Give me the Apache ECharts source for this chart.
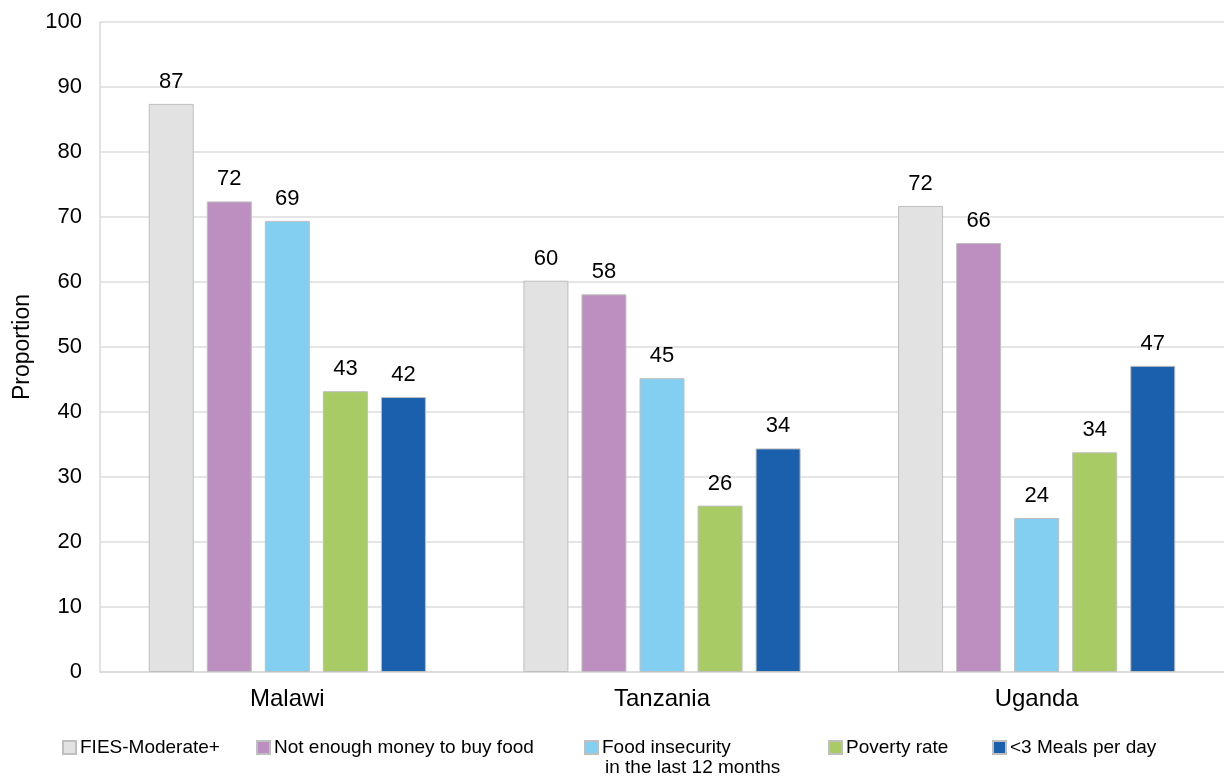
<!DOCTYPE html>
<html>
<head>
<meta charset="utf-8">
<script src="https://cdn.jsdelivr.net/npm/echarts@6/dist/echarts.min.js"></script>
<style>
  html, body { margin: 0; padding: 0; background: #fff; }
  #chart { width: 1224px; height: 776px; }
</style>
</head>
<body>
<div id="chart"></div>
<script>
// 国家
const countries = ['Malawi', 'Tanzania', 'Uganda']
// 系列名称
const seriesNames = [
  'FIES-Moderate+',
  'Not enough money to buy food',
  'Food insecurity',
  'Poverty rate',
  '<3 Meals per day'
]
// 各系列数值（按国家顺序）
const fiesModerate = [87.4, 60.2, 71.7]
const notEnoughMoney = [72.4, 58.1, 66.0]
const foodInsecurity = [69.4, 45.2, 23.7]
const povertyRate = [43.2, 25.6, 33.8]
const mealsPerDay = [42.3, 34.4, 47.1]
const yTicks = [0, 100, 10]

const seriesValues = [fiesModerate, notEnoughMoney, foodInsecurity, povertyRate, mealsPerDay]
const colors = ['#e2e2e2', '#bc8fc0', '#83cff2', '#a9cb65', '#1a60ad']
const legendLeft = [62, 256, 584, 828, 992]

const font = 'Liberation Sans, Arial, sans-serif'

const chart = echarts.init(document.getElementById('chart'))

const option = {
  animation: false,
  grid: { left: 100, right: 0, top: 22, bottom: 104, outerBoundsMode: 'none', containLabel: false },
  legend: seriesNames.map((name, i) => ({
    data: [name],
    left: legendLeft[i],
    top: 738,
    padding: 0,
    icon: 'rect',
    itemWidth: 13,
    itemHeight: 13,
    textStyle: { fontFamily: font, fontSize: 19, color: '#000', padding: [0, 0, 0, -1] }
  })),
  // 第三个图例的第二行文字
  graphic: [{
    type: 'text',
    left: 605,
    top: 758,
    style: { text: 'in the last 12 months', font: '19px Liberation Sans, Arial, sans-serif', fill: '#000' }
  }],
  xAxis: {
    type: 'category',
    data: countries,
    axisLine: { lineStyle: { color: '#d9d9d9', width: 1.5 } },
    axisTick: { show: false },
    axisLabel: { color: '#000', fontFamily: font, fontSize: 24, margin: 15 }
  },
  yAxis: {
    type: 'value',
    min: yTicks[0],
    max: yTicks[1],
    interval: yTicks[2],
    name: 'Proportion',
    nameLocation: 'middle',
    nameGap: 66,
    nameTextStyle: { color: '#000', fontFamily: font, fontSize: 23 },
    axisLine: { show: true, lineStyle: { color: '#d9d9d9', width: 1.5 } },
    axisTick: { show: false },
    splitLine: { lineStyle: { color: '#dcdcdc', width: 1.5 } },
    axisLabel: { color: '#000', fontFamily: font, fontSize: 22, margin: 18 }
  },
  series: seriesNames.map((name, i) => ({
    name,
    type: 'bar',
    data: seriesValues[i],
    barWidth: 45,
    barGap: '29%',
    itemStyle: { color: colors[i], borderColor: '#bfbfbf', borderWidth: 1 },
    label: {
      show: true,
      position: 'top',
      distance: 11,
      color: '#000',
      fontFamily: font,
      fontSize: 22,
      formatter: p => Math.round(p.value)
    }
  }))
}

chart.setOption(option)
</script>
</body>
</html>
